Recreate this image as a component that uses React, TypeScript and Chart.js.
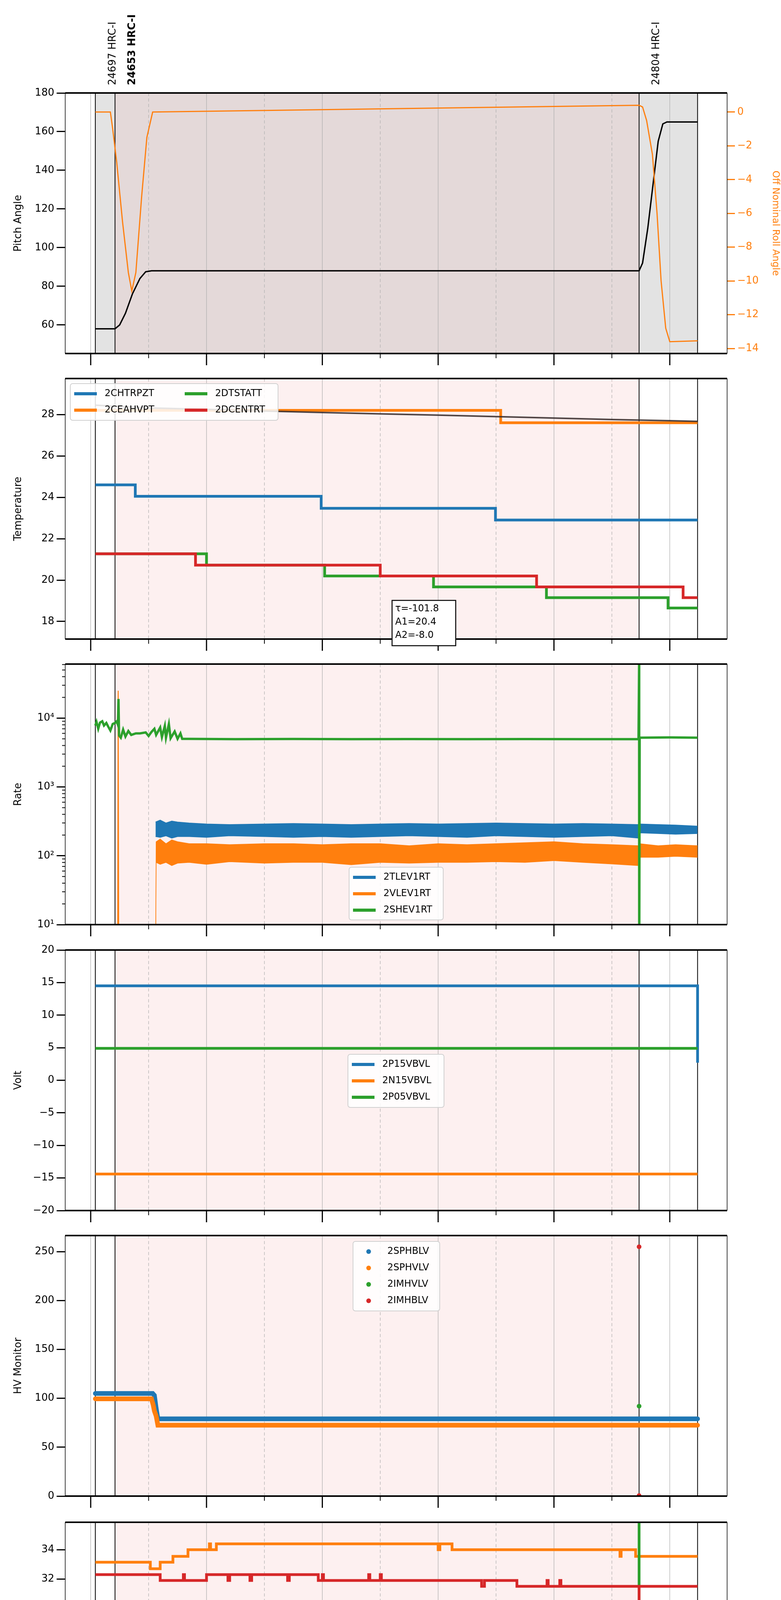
import React, { useEffect, useRef } from 'react';
import { Chart, registerables } from 'chart.js';
Chart.register(...registerables);

const C0 = '#1f77b4', C1 = '#ff7f0e', C2 = '#2ca02c', C3 = '#d62728';
const FONT = 'DejaVu Sans';
const X_MIN = 17.56, X_MAX = 28.99;
const PLOT_LEFT = 167, PLOT_RIGHT_PAD = 138, TITLE_PAD = 32;
const PANEL_TOPS = [238, 969, 1700, 2432, 3163, 3897, 4627];
const PANEL_H = 667;

const HOURS = [18, 19, 20, 21, 22, 23, 24, 25, 26, 27, 28];
const HOUR_LABELS = ['18h', '19h', '20h', '21h', '22h', '23h', '00h', '01h', '02h', '03h', '04h'];
const OBS_LINES = [18.08, 18.42, 27.47, 28.48];
const SHADE = [18.42, 27.47];
const GREY = [18.08, 28.48];
const OBS_LABELS = ['24697 HRC-I', '24653 HRC-I', '24804 HRC-I'];
const OBS_LABEL_X = [18.08, 18.42, 27.47];
const OBS_LABEL_BOLD = [false, true, false];
const X_TITLE = '2021-03-17 (076)';

// Panel 1
const PITCH_T = [18.08, 18.42, 18.5, 18.6, 18.72, 18.85, 18.95, 19.05, 27.47, 27.53, 27.62, 27.72, 27.8, 27.88, 27.95, 28.48];
const PITCH_V = [58, 58, 60, 66, 76, 84, 87.5, 88, 88, 92, 110, 135, 155, 164, 165, 165];
const ROLL_T = [18.08, 18.34, 18.38, 18.45, 18.55, 18.65, 18.71, 18.78, 18.88, 18.97, 19.07, 27.47, 27.53, 27.6, 27.7, 27.78, 27.85, 27.93, 28.0, 28.48];
const ROLL_V = [0, 0, -1, -3, -6.5, -9.5, -10.6, -9.5, -5, -1.5, 0, 0.4, 0.3, -0.5, -2.5, -6, -10, -12.8, -13.6, -13.55];

// Panel 2
const CHTRPZT_T = [18.08, 18.77, 21.98, 24.99, 28.48];
const CHTRPZT_V = [24.6, 24.05, 23.47, 22.9, 22.9];
const CEAHVPT_T = [18.08, 25.08, 28.48];
const CEAHVPT_V = [28.2, 27.6, 27.6];
const DTSTATT_T = [18.08, 20.0, 22.04, 23.92, 25.87, 27.97, 28.48];
const DTSTATT_V = [21.27, 20.72, 20.2, 19.67, 19.15, 18.65, 18.65];
const DCENTRT_T = [18.08, 19.81, 23.0, 25.7, 28.23, 28.48];
const DCENTRT_V = [21.27, 20.72, 20.2, 19.67, 19.15, 19.15];
const FIT_T = [18.08, 19, 20, 21, 22, 23, 24, 25, 26, 27, 28, 28.48];
const FIT_V = [28.45, 28.32, 28.25, 28.17, 28.1, 28.03, 27.97, 27.9, 27.83, 27.76, 27.7, 27.67];
const FIT_TEXT = ['τ=-101.8', 'A1=20.4', 'A2=-8.0'];

// Panel 3
const SHEV_T = [18.08, 18.1, 18.13, 18.16, 18.2, 18.23, 18.27, 18.3, 18.34, 18.38, 18.42, 18.45, 18.47, 18.48, 18.49, 18.52, 18.56, 18.6, 18.65, 18.7, 18.78, 18.85, 18.95, 19.0, 19.05, 19.1, 19.13, 19.2, 19.23, 19.28, 19.3, 19.35, 19.38, 19.45, 19.5, 19.55, 19.58, 19.7, 20.5, 21.5, 22.5, 23.5, 24.5, 25.5, 26.5, 27.46, 27.47, 27.472, 27.48, 28, 28.48];
const SHEV_V = [7800, 8800, 7000, 8600, 9000, 7800, 8500, 7600, 6600, 8200, 8500, 9000, 8000, 19000, 5600, 5200, 6800, 5400, 6500, 5700, 6000, 6000, 6200, 5500, 6300, 7000, 5700, 7300, 5300, 7700, 5200, 8200, 5100, 6400, 5000, 6000, 5000, 5000, 4950, 4980, 4950, 4970, 4950, 4960, 4950, 4950, 60000, 1, 5200, 5250, 5200];
const VLEV_SPIKE_T = [18.465, 18.475, 18.485];
const VLEV_SPIKE_V = [1, 25000, 1];
const VLEV_T = [19.12, 19.13, 19.2, 19.3, 19.4, 19.5, 19.7, 20, 20.4, 21, 21.5, 22, 22.5, 23, 23.5, 24, 24.5, 25, 25.5, 26, 26.5, 27, 27.46, 27.48, 27.8, 28.1, 28.48];
const VLEV_HI = [1, 160, 175, 150, 170, 160, 150, 150, 145, 150, 150, 145, 150, 150, 140, 150, 145, 150, 155, 160, 150, 145, 140, 150, 140, 145, 140];
const VLEV_LO = [1, 80, 75, 80, 72, 78, 80, 75, 82, 78, 80, 80, 74, 80, 78, 80, 80, 82, 80, 85, 80, 76, 72, 95, 95, 98, 95];
const TLEV_T = [19.12, 19.2, 19.3, 19.4, 19.5, 19.7, 20, 20.4, 21, 21.5, 22, 22.5, 23, 23.5, 24, 24.5, 25, 25.5, 26, 26.5, 27, 27.46, 27.48, 27.8, 28.1, 28.48];
const TLEV_HI = [310, 330, 300, 320, 310, 300, 290, 285, 290, 295, 290, 285, 290, 295, 290, 295, 300, 295, 290, 295, 290, 285, 290, 285, 280, 270];
const TLEV_LO = [190, 185, 195, 180, 190, 190, 185, 195, 190, 185, 190, 185, 190, 195, 190, 185, 195, 190, 185, 190, 195, 180, 215, 210, 205, 210];

// Panel 4
const P15_T = [18.08, 28.48, 28.48];
const P15_V = [14.5, 14.5, 2.7];
const N15_T = [18.08, 28.48];
const N15_V = [-14.4, -14.4];
const P05_T = [18.08, 28.48];
const P05_V = [4.9, 4.9];

// Panel 5
const SPHBLV_T = [18.08, 19.07, 19.1, 19.13, 19.16, 28.48];
const SPHBLV_V = [105, 105, 103, 90, 79, 79];
const SPHVLV_T = [18.08, 19.05, 19.08, 19.1, 19.13, 19.16, 28.48];
const SPHVLV_V = [99.5, 99.5, 93, 87, 82, 72.5, 72.5];
const IMHVLV_T = [27.47];
const IMHVLV_V = [92];
const IMHBLV_T = [27.47, 27.47];
const IMHBLV_V = [255, 0.5];

// Panel 6
const SPINATM_T = [18.08, 18.44, 24.78, 28.48];
const SPINATM_V = [21.0, 20.3, 19.62, 19.62];
const SPHVATM_T = [18.08, 19.03, 19.2, 19.42, 19.68, 20.05, 20.07, 20.17, 24.0, 24.03, 24.24, 27.14, 27.16, 27.41, 28.48];
const SPHVATM_V = [33.15, 32.7, 33.15, 33.55, 34.0, 34.4, 34.0, 34.4, 34.0, 34.4, 34.0, 33.55, 34.0, 33.55, 33.55];
const IMINATM_T = [18.08, 18.79, 22.31, 25.3, 25.35, 25.47, 27.47, 27.47, 27.47, 28.48];
const IMINATM_V = [21.65, 20.95, 20.3, 19.6, 20.3, 19.6, 19.6, 40, 19.6, 19.6];
const IMHVATM_T = [18.08, 19.2, 19.6, 19.62, 20.0, 20.37, 20.4, 20.75, 20.78, 21.4, 21.43, 21.93, 22.0, 22.02, 22.8, 22.82, 23.0, 23.02, 24.75, 24.8, 25.36, 25.88, 25.9, 26.1, 26.12, 27.47, 27.47, 27.47, 28.48];
const IMHVATM_V = [32.3, 31.9, 32.3, 31.9, 32.3, 31.9, 32.3, 31.9, 32.3, 31.9, 32.3, 31.9, 32.3, 31.9, 32.3, 31.9, 32.3, 31.9, 31.5, 31.9, 31.5, 31.9, 31.5, 31.9, 31.5, 31.5, 0, 31.5, 31.5];

// Panel 7
const FHTRMZT_T = [18.08, 19.85, 21.17, 22.57, 24.08, 25.8, 27.74, 27.78, 28.48];
const FHTRMZT_V = [22.9, 22.35, 21.8, 21.3, 20.75, 20.2, 19.7, 20.2, 20.2];
const FRADPYT_T = [18.08, 18.68, 18.81, 18.97, 19.16, 19.59, 20.6, 21.85, 23.26, 24.8, 26.57, 27.83, 28.0, 28.19, 28.48];
const FRADPYT_V = [17.65, 18.15, 18.65, 18.15, 17.65, 17.15, 16.65, 16.2, 15.7, 15.25, 14.75, 15.25, 15.7, 16.2, 16.2];
const FEPRATM_T = [18.08, 20.3, 20.33, 20.37, 22.3, 22.33, 22.4, 24.73, 27.43, 27.45, 27.52, 28.15, 28.48];
const FEPRATM_V = [24.65, 23.9, 24.65, 23.9, 23.1, 23.9, 23.15, 22.4, 21.7, 22.4, 21.7, 22.4, 22.4];
const FE00ATM_T = [18.08, 18.12, 18.92, 19.05, 19.15, 19.18, 19.4, 19.43, 19.52, 19.55, 19.62, 19.65, 19.76, 19.79, 19.85, 19.88, 20.36, 20.39, 20.72, 20.75, 21.6, 21.63, 21.75, 22.6, 22.63, 22.79, 23.1, 23.13, 23.72, 23.75, 23.87, 24.25, 24.28, 25.08, 25.2, 25.23, 25.38, 25.41, 25.85, 25.88, 26.42, 27.0, 27.03, 27.47, 27.47, 27.47, 27.47, 28.33, 28.48];
const FE00ATM_V = [23.0, 22.65, 23.0, 22.65, 23.0, 22.65, 22.35, 22.65, 22.35, 22.65, 23.0, 22.65, 22.0, 22.65, 23.65, 22.3, 22.0, 22.3, 23.0, 22.0, 22.7, 22.0, 21.7, 22.1, 21.7, 21.4, 22.1, 21.4, 22.4, 21.4, 21.1, 22.05, 21.1, 20.8, 22.05, 20.8, 22.35, 20.8, 21.4, 20.8, 20.5, 21.1, 20.5, 20.5, 0, 40, 20.5, 20.8, 20.8];

const pts = (t: number[], v: number[]) => t.map((x, i) => ({ x, y: v[i] }));
const isPow10 = (v: number) => Math.abs(Math.log10(v) - Math.round(Math.log10(v))) < 1e-9;

type Leg = { label: string; color: string; dot?: boolean };
type PanelCfg = {
  idx: number;
  yTitle: string;
  yMin: number; yMax: number; yTicks: number[];
  yLabel?: (v: number) => string;
  log?: boolean;
  datasets: any[];
  legend?: { x: number; y: number; w: number; h: number; cols: number; colW: number; rowH: number; items: Leg[] };
  grey?: boolean;
  right?: { min: number; max: number; ticks: number[]; title: string };
  extra?: (ctx: CanvasRenderingContext2D, chart: any, top: number) => void;
};

const line = (label: string, data: any[], color: string, width: number, stepped = true, extra: any = {}) => ({
  label, data, borderColor: color, backgroundColor: color, borderWidth: width, pointRadius: 0, stepped, ...extra,
});

function Panel({ cfg }: { cfg: PanelCfg }) {
  const ref = useRef<HTMLCanvasElement>(null);
  const top = PANEL_TOPS[cfg.idx];
  const padTop = cfg.idx === 0 ? top : 40;
  const last = cfg.idx === 6;
  const padBottom = last ? 130 : 55;
  const canvasTop = top - padTop;
  const H = padTop + PANEL_H + padBottom;

  useEffect(() => {
    const cv = ref.current!;
    const N = cfg.datasets.length;
    const datasets = cfg.datasets.map((d, i) => ({ order: N - i, ...d }));
    const decor = {
      id: 'decor',
      beforeDatasetsDraw(chart: any) {
        const { ctx, chartArea: a, scales } = chart;
        const xs = scales.x;
        const px = (v: number) => xs.getPixelForValue(v);
        ctx.save();
        if (cfg.grey) {
          ctx.fillStyle = '#e3e3e3';
          ctx.fillRect(px(GREY[0]), a.top, px(GREY[1]) - px(GREY[0]), a.bottom - a.top);
          ctx.fillStyle = '#e4d9d9';
        } else ctx.fillStyle = '#fdf0f0';
        ctx.fillRect(px(SHADE[0]), a.top, px(SHADE[1]) - px(SHADE[0]), a.bottom - a.top);
        HOURS.forEach((h) => {
          ctx.beginPath();
          ctx.strokeStyle = '#b0b0b0';
          ctx.lineWidth = 1.3;
          ctx.setLineDash(h % 2 === 0 ? [] : [8, 6]);
          ctx.moveTo(px(h), a.top); ctx.lineTo(px(h), a.bottom); ctx.stroke();
        });
        ctx.setLineDash([]);
        OBS_LINES.forEach((h) => {
          ctx.beginPath();
          ctx.strokeStyle = '#000';
          ctx.lineWidth = 2;
          ctx.moveTo(px(h), a.top); ctx.lineTo(px(h), a.bottom); ctx.stroke();
        });
        ctx.restore();
      },
      afterDraw(chart: any) {
        const { ctx, chartArea: a, scales } = chart;
        const xs = scales.x;
        const px = (v: number) => xs.getPixelForValue(v);
        ctx.save();
        ctx.strokeStyle = '#000';
        ctx.lineWidth = 4;
        ctx.beginPath(); ctx.moveTo(a.left, a.top); ctx.lineTo(a.right, a.top); ctx.stroke();
        ctx.beginPath(); ctx.moveTo(a.left, a.bottom); ctx.lineTo(a.right, a.bottom); ctx.stroke();
        ctx.lineWidth = 1.5;
        ctx.beginPath(); ctx.moveTo(a.left, a.top); ctx.lineTo(a.left, a.bottom); ctx.stroke();
        ctx.beginPath(); ctx.moveTo(a.right, a.top); ctx.lineTo(a.right, a.bottom); ctx.stroke();
        HOURS.forEach((h) => {
          ctx.beginPath();
          ctx.lineWidth = h % 2 === 0 ? 3 : 2;
          ctx.moveTo(px(h), a.bottom); ctx.lineTo(px(h), a.bottom + (h % 2 === 0 ? 30 : 12)); ctx.stroke();
        });
        if (cfg.log) {
          const ys = scales.y;
          ctx.lineWidth = 2;
          cfg.yTicks.forEach((v) => {
            if (isPow10(v)) return;
            const y = ys.getPixelForValue(v);
            ctx.beginPath(); ctx.moveTo(a.left - 8, y); ctx.lineTo(a.left, y); ctx.stroke();
          });
        }
        if (last) {
          ctx.fillStyle = '#000';
          ctx.textAlign = 'center';
          ctx.textBaseline = 'middle';
          HOURS.forEach((h, i) => {
            const major = h % 2 === 0;
            ctx.font = `${major ? 26 : 15}px ${FONT}`;
            ctx.fillText(HOUR_LABELS[i], px(h), a.bottom + (major ? 50 : 24));
          });
          ctx.font = `28px ${FONT}`;
          ctx.fillText(X_TITLE, (a.left + a.right) / 2, a.bottom + 88);
        }
        if (cfg.idx === 0) {
          ctx.fillStyle = '#000';
          OBS_LABELS.forEach((s, i) => {
            ctx.save();
            ctx.translate(px(OBS_LABEL_X[i]) + 58, a.top - 20);
            ctx.rotate(-Math.PI / 2);
            ctx.font = `${OBS_LABEL_BOLD[i] ? 'bold ' : ''}26px ${FONT}`;
            ctx.textAlign = 'left';
            ctx.textBaseline = 'bottom';
            ctx.fillText(s, 0, 0);
            ctx.restore();
          });
        }
        if (cfg.legend) {
          const L = cfg.legend;
          const y0 = L.y - canvasTop;
          ctx.fillStyle = 'rgba(255,255,255,0.85)';
          ctx.strokeStyle = '#d0d0d0';
          ctx.lineWidth = 2;
          ctx.beginPath();
          (ctx as any).roundRect(L.x, y0, L.w, L.h, 6);
          ctx.fill(); ctx.stroke();
          const rows = Math.ceil(L.items.length / L.cols);
          L.items.forEach((it, k) => {
            const col = Math.floor(k / rows), row = k % rows;
            const ix = L.x + 10 + col * L.colW;
            const iy = y0 + 26 + row * L.rowH;
            ctx.strokeStyle = it.color; ctx.fillStyle = it.color;
            if (it.dot) {
              ctx.beginPath(); ctx.arc(ix + 30, iy, 6, 0, Math.PI * 2); ctx.fill();
            } else {
              ctx.lineWidth = 8;
              ctx.beginPath(); ctx.moveTo(ix, iy); ctx.lineTo(ix + 58, iy); ctx.stroke();
            }
            ctx.fillStyle = '#000';
            ctx.font = `24px ${FONT}`;
            ctx.textAlign = 'left'; ctx.textBaseline = 'middle';
            ctx.fillText(it.label, ix + 78, iy);
          });
        }
        if (cfg.extra) cfg.extra(ctx, chart, canvasTop);
        ctx.restore();
      },
    };
    const scales: any = {
      x: {
        type: 'linear', min: X_MIN, max: X_MAX,
        afterBuildTicks: (s: any) => { s.ticks = HOURS.map((v) => ({ value: v })); },
        afterFit: (s: any) => { s.height = padBottom; },
        ticks: { display: false },
        grid: { display: false },
        border: { display: false },
      },
      y: {
        type: cfg.log ? 'logarithmic' : 'linear', min: cfg.yMin, max: cfg.yMax,
        afterBuildTicks: (s: any) => { s.ticks = cfg.yTicks.map((v) => ({ value: v })); },
        afterFit: (s: any) => { s.width = PLOT_LEFT - TITLE_PAD; },
        ticks: {
          color: '#000', font: { family: FONT, size: 26 }, padding: 6, autoSkip: false,
          callback: (v: any) => (cfg.yLabel ? cfg.yLabel(Number(v)) : String(v)),
        },
        grid: {
          drawOnChartArea: false, tickLength: 22, tickWidth: 3,
          tickColor: (c: any) => (cfg.log && c.tick && !isPow10(c.tick.value) ? 'rgba(0,0,0,0)' : '#000'),
        },
        border: { display: false },
        title: { display: true, text: cfg.yTitle, color: '#000', font: { family: FONT, size: 26 }, padding: 0 },
      },
    };
    if (cfg.right) {
      const R = cfg.right;
      scales.y2 = {
        type: 'linear', position: 'right', min: R.min, max: R.max,
        afterBuildTicks: (s: any) => { s.ticks = R.ticks.map((v) => ({ value: v })); },
        afterFit: (s: any) => { s.width = PLOT_RIGHT_PAD; },
        ticks: { color: C1, font: { family: FONT, size: 26 }, padding: 6, callback: (v: any) => String(v).replace('-', '\u2212') },
        grid: { drawOnChartArea: false, tickLength: 20, tickWidth: 3, tickColor: C1 },
        border: { display: false },
        title: { display: true, text: R.title, color: C1, font: { family: FONT, size: 24 }, padding: 0 },
      };
    }
    const chart = new Chart(cv, {
      type: 'line',
      data: { datasets },
      options: {
        animation: false, responsive: false, devicePixelRatio: 1,
        parsing: false as any,
        layout: { padding: { top: padTop, bottom: 0, left: TITLE_PAD, right: cfg.right ? 0 : PLOT_RIGHT_PAD } },
        plugins: { legend: { display: false }, tooltip: { enabled: false } },
        scales,
      } as any,
      plugins: [decor],
    });
    return () => chart.destroy();
  }, []);

  return (
    <canvas ref={ref} width={2000} height={H}
      style={{ position: 'absolute', left: 0, top: canvasTop, width: 2000, height: H }} />
  );
}

const panels: PanelCfg[] = [
  {
    idx: 0, yTitle: 'Pitch Angle', yMin: 45.2, yMax: 180, yTicks: [60, 80, 100, 120, 140, 160, 180], grey: true,
    right: { min: -14.3, max: 1.13, ticks: [0, -2, -4, -6, -8, -10, -12, -14], title: 'Off Nominal Roll Angle' },
    datasets: [
      line('pitch', pts(PITCH_T, PITCH_V), '#000', 3.5, false, { yAxisID: 'y' }),
      line('roll', pts(ROLL_T, ROLL_V), C1, 3, false, { yAxisID: 'y2' }),
    ],
  },
  {
    idx: 1, yTitle: 'Temperature', yMin: 17.15, yMax: 29.74, yTicks: [18, 20, 22, 24, 26, 28],
    datasets: [
      line('2CHTRPZT', pts(CHTRPZT_T, CHTRPZT_V), C0, 7),
      line('2CEAHVPT', pts(CEAHVPT_T, CEAHVPT_V), C1, 7),
      line('2DTSTATT', pts(DTSTATT_T, DTSTATT_V), C2, 7),
      line('2DCENTRT', pts(DCENTRT_T, DCENTRT_V), C3, 7),
      line('fit', pts(FIT_T, FIT_V), 'rgba(50,40,40,0.85)', 4, false),
    ],
    legend: {
      x: 180, y: 982, w: 532, h: 94, cols: 2, colW: 283, rowH: 42,
      items: [
        { label: '2CHTRPZT', color: C0 }, { label: '2CEAHVPT', color: C1 },
        { label: '2DTSTATT', color: C2 }, { label: '2DCENTRT', color: C3 },
      ],
    },
    extra: (ctx, chart, ct) => {
      const x = 1004, y = 1537 - ct, w = 163, h = 116;
      ctx.fillStyle = '#fff'; ctx.strokeStyle = '#000'; ctx.lineWidth = 2.5;
      ctx.fillRect(x, y, w, h); ctx.strokeRect(x, y, w, h);
      ctx.fillStyle = '#000'; ctx.font = `24px ${FONT}`; ctx.textAlign = 'left'; ctx.textBaseline = 'middle';
      FIT_TEXT.forEach((s, i) => ctx.fillText(s, x + 8, y + 22 + i * 34));
    },
  },
  {
    idx: 2, yTitle: 'Rate', log: true, yMin: 10, yMax: 61000,
    yTicks: [10, 20, 30, 40, 50, 60, 70, 80, 90, 100, 200, 300, 400, 500, 600, 700, 800, 900, 1000, 2000, 3000, 4000, 5000, 6000, 7000, 8000, 9000, 10000, 20000, 30000, 40000, 50000, 60000],
    yLabel: (v) => ({ 10: '10¹', 100: '10²', 1000: '10³', 10000: '10⁴' } as any)[v] || '',
    datasets: [
      line('tlo', pts(TLEV_T, TLEV_LO), C0, 1.5, false),
      line('thi', pts(TLEV_T, TLEV_HI), C0, 1.5, false, { fill: '-1' }),
      line('vlo', pts(VLEV_T, VLEV_LO), C1, 1.5, false),
      line('vhi', pts(VLEV_T, VLEV_HI), C1, 1.5, false, { fill: '-1' }),
      line('vsp', pts(VLEV_SPIKE_T, VLEV_SPIKE_V), C1, 2.5, false),
      line('2SHEV1RT', pts(SHEV_T, SHEV_V), C2, 6, false),
    ],
    legend: {
      x: 894, y: 2220, w: 241, h: 135, cols: 1, colW: 0, rowH: 42,
      items: [{ label: '2TLEV1RT', color: C0 }, { label: '2VLEV1RT', color: C1 }, { label: '2SHEV1RT', color: C2 }],
    },
  },
  {
    idx: 3, yTitle: 'Volt', yMin: -20, yMax: 20, yTicks: [-20, -15, -10, -5, 0, 5, 10, 15, 20],
    yLabel: (v) => String(v).replace('-', '\u2212'),
    datasets: [
      line('2P15VBVL', pts(P15_T, P15_V), C0, 7, false),
      line('2N15VBVL', pts(N15_T, N15_V), C1, 7, false),
      line('2P05VBVL', pts(P05_T, P05_V), C2, 7, false),
    ],
    legend: {
      x: 891, y: 2699, w: 246, h: 136, cols: 1, colW: 0, rowH: 42,
      items: [{ label: '2P15VBVL', color: C0 }, { label: '2N15VBVL', color: C1 }, { label: '2P05VBVL', color: C2 }],
    },
  },
  {
    idx: 4, yTitle: 'HV Monitor', yMin: 0, yMax: 266.5, yTicks: [0, 50, 100, 150, 200, 250],
    datasets: [
      line('2SPHBLV', pts(SPHBLV_T, SPHBLV_V), C0, 12, false, { borderCapStyle: 'round' }),
      line('2SPHVLV', pts(SPHVLV_T, SPHVLV_V), C1, 12, false, { borderCapStyle: 'round' }),
      line('2IMHVLV', pts(IMHVLV_T, IMHVLV_V), C2, 0, false, { showLine: false, pointRadius: 6 }),
      line('2IMHBLV', pts(IMHBLV_T, IMHBLV_V), C3, 0, false, { showLine: false, pointRadius: 6 }),
    ],
    legend: {
      x: 904, y: 3178, w: 222, h: 178, cols: 1, colW: 0, rowH: 42,
      items: [
        { label: '2SPHBLV', color: C0, dot: true }, { label: '2SPHVLV', color: C1, dot: true },
        { label: '2IMHVLV', color: C2, dot: true }, { label: '2IMHBLV', color: C3, dot: true },
      ],
    },
  },
  {
    idx: 5, yTitle: 'Detector Temp', yMin: 18.11, yMax: 35.87, yTicks: [20, 22, 24, 26, 28, 30, 32, 34],
    datasets: [
      line('2SPINATM', pts(SPINATM_T, SPINATM_V), C0, 7),
      line('2SPHVATM', pts(SPHVATM_T, SPHVATM_V), C1, 7),
      line('2IMINATM', pts(IMINATM_T, IMINATM_V), C2, 7),
      line('2IMHVATM', pts(IMHVATM_T, IMHVATM_V), C3, 7),
    ],
    legend: {
      x: 888, y: 4142, w: 250, h: 176, cols: 1, colW: 0, rowH: 42,
      items: [
        { label: '2SPINATM', color: C0 }, { label: '2SPHVATM', color: C1 },
        { label: '2IMINATM', color: C2 }, { label: '2IMHVATM', color: C3 },
      ],
    },
  },
  {
    idx: 6, yTitle: 'FEA Temp', yMin: 13.76, yMax: 25.4, yTicks: [14, 16, 18, 20, 22, 24],
    datasets: [
      line('2FHTRMZT', pts(FHTRMZT_T, FHTRMZT_V), C0, 7),
      line('2FRADPYT', pts(FRADPYT_T, FRADPYT_V), C1, 7),
      line('2FEPRATM', pts(FEPRATM_T, FEPRATM_V), C2, 7),
      line('2FE00ATM', pts(FE00ATM_T, FE00ATM_V), C3, 6),
    ],
    legend: {
      x: 180, y: 5104, w: 253, h: 177, cols: 1, colW: 0, rowH: 42,
      items: [
        { label: '2FHTRMZT', color: C0 }, { label: '2FRADPYT', color: C1 },
        { label: '2FEPRATM', color: C2 }, { label: '2FE00ATM', color: C3 },
      ],
    },
  },
];

export default function App() {
  useEffect(() => { document.body.style.margin = '0'; }, []);
  return (
    <div style={{ position: 'relative', width: 2000, height: 5400, background: '#fff', fontFamily: FONT }}>
      {panels.map((p) => <Panel key={p.idx} cfg={p} />)}
    </div>
  );
}
